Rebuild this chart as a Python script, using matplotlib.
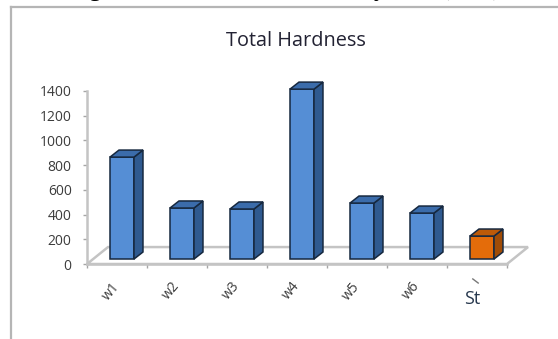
import matplotlib
matplotlib.use('Agg')
import matplotlib.pyplot as plt
from matplotlib.patches import Polygon

categories = ['w1', 'w2', 'w3', 'w4', 'w5', 'w6', 'St']
hardness = [825, 413, 405, 1375, 453, 372, 186]
y_ticks = [0, 200, 400, 600, 800, 1000, 1200, 1400]

W, H = 558, 339
plt.rcParams['font.family'] = ['Open Sans', 'DejaVu Sans']

fig = plt.figure(figsize=(W / 100, H / 100), dpi=100)
ax = fig.add_axes([87 / W, 1 - 264 / H, 420 / W, 173 / H])
ax.set_xlim(-0.5, 6.5)
ax.set_ylim(0, 1400)

# fake 3d offsets in data units
floor_dx, floor_dy = 0.35, 137
lift_x, lift_y = 0.083, 40
depth_x, depth_y = 0.15, 57
bar_w = 0.4
edge = '#16283f'

# floor of the chart
ax.add_patch(Polygon([(-0.5, 0), (6.5, 0), (6.5 + floor_dx, floor_dy), (-0.5 + floor_dx, floor_dy)],
                     closed=True, fc='white', ec='#c4c4c4', lw=1.8, clip_on=False, zorder=1))

for i, v in enumerate(hardness):
    front, side, top = '#558ed5', '#2f5a90', '#3b6cab'
    if categories[i] == 'St':
        front, side, top = '#e46c0a', '#a04c06', '#bd5a08'
    left = i + lift_x - bar_w / 2
    right = i + lift_x + bar_w / 2
    base = lift_y
    ax.bar(i + lift_x, v, width=bar_w, bottom=base, color=front, edgecolor=edge, lw=1.1, zorder=3,
           clip_on=False)
    ax.add_patch(Polygon([(right, base), (right + depth_x, base + depth_y),
                          (right + depth_x, base + v + depth_y), (right, base + v)],
                         closed=True, fc=side, ec=edge, lw=1.1, clip_on=False, zorder=3))
    ax.add_patch(Polygon([(left, base + v), (right, base + v),
                          (right + depth_x, base + v + depth_y), (left + depth_x, base + v + depth_y)],
                         closed=True, fc=top, ec=edge, lw=1.1, clip_on=False, zorder=3))

for s in ['top', 'right']:
    ax.spines[s].set_visible(False)
for s in ['left', 'bottom']:
    ax.spines[s].set_color('#c4c4c4')
    ax.spines[s].set_linewidth(1.8)
    ax.spines[s].set_zorder(2)

ax.set_yticks(y_ticks)
ax.set_xticks([i - 0.5 for i in range(8)])
ax.set_xticklabels([])
ax.tick_params(axis='both', color='#a6a6a6', length=3, width=1)
ax.tick_params(axis='y', labelsize=10, labelcolor='#3c3c3c', pad=8)

# category labels sit under the floor, St is set apart
for i, c in enumerate(categories[:-1]):
    ax.annotate(c, (i, 0), xytext=(-4, -19.5), textcoords='offset points', rotation=50,
                ha='center', va='center', fontsize=10, color='#3c3c3c', annotation_clip=False)
ax.annotate('St', (6, 0), xytext=(-3.5, -25), textcoords='offset points', ha='center', va='center',
            fontsize=13, color='#27384e', annotation_clip=False)

# small stray stroke above St
ax.plot([5.93, 6.02], [-121, -154], color='#777777', lw=1, clip_on=False)

fig.text(296 / W, 1 - 40.5 / H, 'Total Hardness', ha='center', va='center', fontsize=14.3, color='#222233')

# outer frame of the chart area
fig.add_artist(plt.Line2D([11 / W, 11 / W], [0, 1 - 7 / H], color='#b5b5b5', lw=1.6))
fig.add_artist(plt.Line2D([11 / W, 1], [1 - 7 / H, 1 - 7 / H], color='#b5b5b5', lw=1.6))

# caption line running off the top edge
for x, word in [(95, 'g'), (380, 'y'), (472, '(ppm)')]:
    fig.text(x / W, 1 + 4 / H, word, ha='center', va='baseline', fontsize=18, color='black',
             family='Liberation Serif')

fig.savefig('out.png', dpi=100)
